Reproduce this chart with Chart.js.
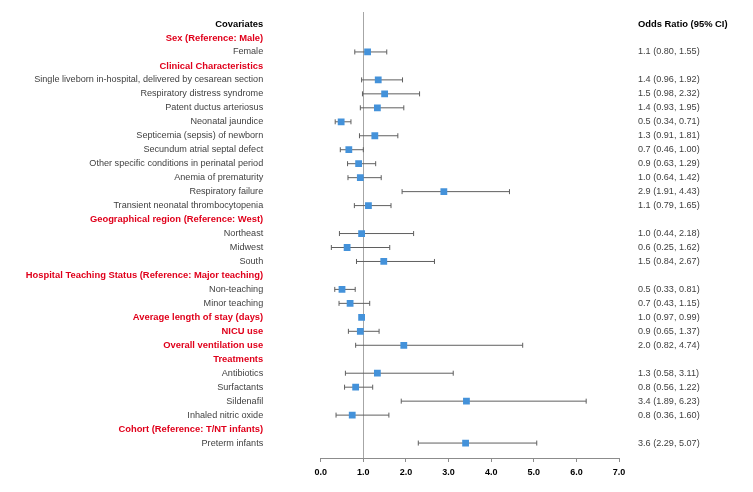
<!DOCTYPE html>
<html>
<head>
<meta charset="utf-8">
<script src="https://cdn.jsdelivr.net/npm/chart.js@4.4.1/dist/chart.umd.min.js"></script>
<style>
  html, body { margin: 0; padding: 0; background: #ffffff; }
  #wrap { width: 753px; height: 492px; position: relative; }
</style>
</head>
<body>
<div id="wrap"><canvas id="c"></canvas></div>
<script>
// ---- data ----
const rowLabels = [
  "Covariates",
  "Sex (Reference: Male)",
  "Female",
  "Clinical Characteristics",
  "Single liveborn in-hospital, delivered by cesarean section",
  "Respiratory distress syndrome",
  "Patent ductus arteriosus",
  "Neonatal jaundice",
  "Septicemia (sepsis) of newborn",
  "Secundum atrial septal defect",
  "Other specific conditions in perinatal period",
  "Anemia of prematurity",
  "Respiratory failure",
  "Transient neonatal thrombocytopenia",
  "Geographical region (Reference: West)",
  "Northeast",
  "Midwest",
  "South",
  "Hospital Teaching Status (Reference: Major teaching)",
  "Non-teaching",
  "Minor teaching",
  "Average length of stay (days)",
  "NICU use",
  "Overall ventilation use",
  "Treatments",
  "Antibiotics",
  "Surfactants",
  "Sildenafil",
  "Inhaled nitric oxide",
  "Cohort (Reference: T/NT infants)",
  "Preterm infants"
];
// t = title, g = group heading (red bold), i = item
const rowKinds = ["t","g","i","g","i","i","i","i","i","i","i","i","i","i","g","i","i","i","g","i","i","g","g","g","g","i","i","i","i","g","i"];

const oddsRatio = [null,null,1.10,null,1.35,1.50,1.33,0.48,1.27,0.66,0.89,0.93,2.89,1.12,null,0.96,0.62,1.48,null,0.50,0.69,0.96,0.93,1.95,null,1.33,0.82,3.42,0.74,null,3.40];
const ciLow  = [null,null,0.80,null,0.96,0.98,0.93,0.34,0.91,0.46,0.63,0.64,1.91,0.79,null,0.44,0.25,0.84,null,0.33,0.43,0.97,0.65,0.82,null,0.58,0.56,1.89,0.36,null,2.29];
const ciHigh = [null,null,1.55,null,1.92,2.32,1.95,0.71,1.81,1.00,1.29,1.42,4.43,1.65,null,2.18,1.62,2.67,null,0.81,1.15,0.99,1.37,4.74,null,3.11,1.22,6.23,1.60,null,5.07];

const ciLabels = [
  "Odds Ratio (95% CI)","","1.1 (0.80, 1.55)","",
  "1.4 (0.96, 1.92)","1.5 (0.98, 2.32)","1.4 (0.93, 1.95)","0.5 (0.34, 0.71)",
  "1.3 (0.91, 1.81)","0.7 (0.46, 1.00)","0.9 (0.63, 1.29)","1.0 (0.64, 1.42)",
  "2.9 (1.91, 4.43)","1.1 (0.79, 1.65)","",
  "1.0 (0.44, 2.18)","0.6 (0.25, 1.62)","1.5 (0.84, 2.67)","",
  "0.5 (0.33, 0.81)","0.7 (0.43, 1.15)","1.0 (0.97, 0.99)","0.9 (0.65, 1.37)","2.0 (0.82, 4.74)","",
  "1.3 (0.58, 3.11)","0.8 (0.56, 1.22)","3.4 (1.89, 6.23)","0.8 (0.36, 1.60)","",
  "3.6 (2.29, 5.07)"
];
const xTicks = [0,1,2,3,4,5,6,7];

// ---- build datasets ----
const markerPts = [];
const whiskerPts = [];
rowLabels.forEach((_, i) => {
  if (oddsRatio[i] !== null) markerPts.push({x: oddsRatio[i], y: i});
  if (ciLow[i] !== null) {
    whiskerPts.push({x: ciLow[i], y: i});
    whiskerPts.push({x: ciHigh[i], y: i});
    whiskerPts.push({x: null, y: null});
  }
});

const FONT = "'Liberation Sans', Arial, sans-serif";
const RED = '#e0001b';
const GRAY_TXT = '#3f3f3f';

function rowTicks(scale) {
  scale.ticks = rowLabels.map((_, i) => ({value: i}));
}
function fixWidth(w) {
  return (s) => {
    s.width = w;
    s.paddingTop = 0;
    s.paddingBottom = 0;
  };
}

new Chart(document.getElementById('c'), {
  type: 'scatter',
  data: {
    datasets: [
      {
        data: whiskerPts,
        showLine: true,
        spanGaps: false,
        borderColor: '#5f5f5f',
        borderWidth: 1,
        pointStyle: 'line',
        rotation: 90,
        pointRadius: 2.5,
        pointBorderColor: '#5f5f5f',
        pointBorderWidth: 1,
        pointHoverRadius: 2.5,
        order: 2
      },
      {
        data: markerPts,
        showLine: false,
        pointStyle: 'rect',
        pointRadius: 4.8,
        pointHoverRadius: 4.8,
        backgroundColor: '#4492da',
        borderColor: '#4492da',
        pointBorderWidth: 0,
        order: 1
      }
    ]
  },
  options: {
    responsive: true,
    maintainAspectRatio: false,
    animation: false,
    events: [],
    layout: { padding: { top: 12, left: 0, right: 0, bottom: 0 } },
    plugins: { legend: { display: false }, tooltip: { enabled: false } },
    scales: {
      x: {
        type: 'linear',
        min: 0,
        max: 7,
        afterBuildTicks: (s) => { s.ticks = xTicks.map(v => ({value: v})); },
        afterFit: (s) => { s.height = 34; s.paddingLeft = 0; s.paddingRight = 0; },
        border: { display: true, color: '#8c8c8c', width: 1 },
        grid: {
          color: (ctx) => (ctx.tick && ctx.tick.value === 1) ? '#a6a6a6' : 'rgba(0,0,0,0)',
          tickColor: '#8c8c8c',
          tickLength: 4,
          drawTicks: true
        },
        ticks: {
          padding: 5,
          color: '#000000',
          font: { family: FONT, size: 9, weight: 'bold' },
          callback: (v) => Number(v).toFixed(1)
        }
      },
      y: {
        type: 'linear',
        position: 'left',
        reverse: true,
        min: -0.86,
        max: 31.07,
        afterBuildTicks: rowTicks,
        afterFit: fixWidth(320.7),
        border: { display: false },
        grid: { display: false, drawTicks: true, tickLength: 57.5 },
        ticks: {
          autoSkip: false,
          padding: 0,
          callback: (v) => rowLabels[v] !== undefined ? rowLabels[v] : '',
          color: (ctx) => {
            const k = rowKinds[ctx.index];
            return k === 't' ? '#000000' : (k === 'g' ? RED : GRAY_TXT);
          },
          font: (ctx) => {
            const k = rowKinds[ctx.index];
            return { family: FONT, size: (k === 'i') ? 9.1 : 9.4, weight: (k === 'i') ? 'normal' : 'bold' };
          }
        }
      },
      y2: {
        type: 'linear',
        position: 'right',
        reverse: true,
        min: -0.86,
        max: 31.07,
        afterBuildTicks: rowTicks,
        afterFit: fixWidth(134),
        border: { display: false },
        grid: { display: false, drawTicks: true, tickLength: 19 },
        ticks: {
          autoSkip: false,
          padding: 0,
          callback: (v) => ciLabels[v] !== undefined ? ciLabels[v] : '',
          color: (ctx) => ctx.index === 0 ? '#000000' : GRAY_TXT,
          font: (ctx) => ({ family: FONT, size: ctx.index === 0 ? 9.4 : 9.1, weight: ctx.index === 0 ? 'bold' : 'normal' })
        }
      }
    }
  }
});
</script>
</body>
</html>
